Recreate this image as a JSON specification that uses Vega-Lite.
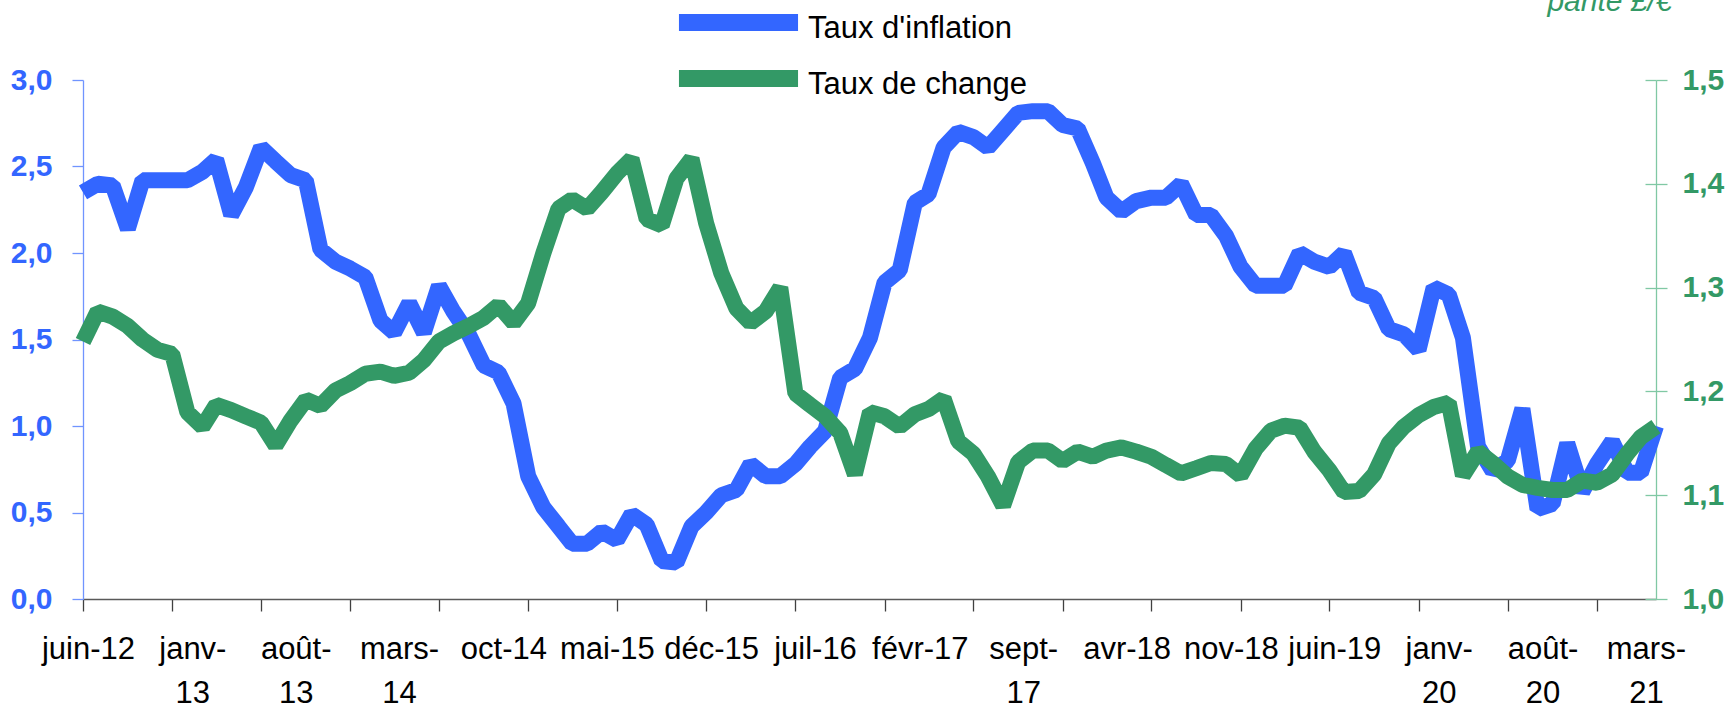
{
  "$schema": "https://vega.github.io/schema/vega-lite/v6.json",
  "width": 1573,
  "height": 519,
  "autosize": {"type": "none"},
  "padding": {"left": 83, "top": 80, "right": 72, "bottom": 114},
  "background": "white",
  "config": {"view": {"stroke": null}, "font": "Liberation Sans"},
  "data": {"values": [
    {"mois": "2012-06-01", "inflation": 2.35, "change": 1.248},
    {"mois": "2012-07-01", "inflation": 2.40, "change": 1.277},
    {"mois": "2012-08-01", "inflation": 2.39, "change": 1.272},
    {"mois": "2012-09-01", "inflation": 2.14, "change": 1.263},
    {"mois": "2012-10-01", "inflation": 2.42, "change": 1.250},
    {"mois": "2012-11-01", "inflation": 2.42, "change": 1.240},
    {"mois": "2012-12-01", "inflation": 2.42, "change": 1.236},
    {"mois": "2013-01-01", "inflation": 2.42, "change": 1.180},
    {"mois": "2013-02-01", "inflation": 2.47, "change": 1.166},
    {"mois": "2013-03-01", "inflation": 2.54, "change": 1.187},
    {"mois": "2013-04-01", "inflation": 2.22, "change": 1.182},
    {"mois": "2013-05-01", "inflation": 2.38, "change": 1.176},
    {"mois": "2013-06-01", "inflation": 2.61, "change": 1.170},
    {"mois": "2013-07-01", "inflation": 2.53, "change": 1.148},
    {"mois": "2013-08-01", "inflation": 2.45, "change": 1.172},
    {"mois": "2013-09-01", "inflation": 2.42, "change": 1.192},
    {"mois": "2013-10-01", "inflation": 2.02, "change": 1.186},
    {"mois": "2013-11-01", "inflation": 1.95, "change": 1.201},
    {"mois": "2013-12-01", "inflation": 1.91, "change": 1.208},
    {"mois": "2014-01-01", "inflation": 1.86, "change": 1.217},
    {"mois": "2014-02-01", "inflation": 1.61, "change": 1.219},
    {"mois": "2014-03-01", "inflation": 1.54, "change": 1.215},
    {"mois": "2014-04-01", "inflation": 1.71, "change": 1.218},
    {"mois": "2014-05-01", "inflation": 1.54, "change": 1.230},
    {"mois": "2014-06-01", "inflation": 1.81, "change": 1.248},
    {"mois": "2014-07-01", "inflation": 1.66, "change": 1.256},
    {"mois": "2014-08-01", "inflation": 1.53, "change": 1.263},
    {"mois": "2014-09-01", "inflation": 1.35, "change": 1.271},
    {"mois": "2014-10-01", "inflation": 1.31, "change": 1.283},
    {"mois": "2014-11-01", "inflation": 1.13, "change": 1.266},
    {"mois": "2014-12-01", "inflation": 0.71, "change": 1.285},
    {"mois": "2015-01-01", "inflation": 0.53, "change": 1.333},
    {"mois": "2015-02-01", "inflation": 0.42, "change": 1.376},
    {"mois": "2015-03-01", "inflation": 0.32, "change": 1.385},
    {"mois": "2015-04-01", "inflation": 0.32, "change": 1.376},
    {"mois": "2015-05-01", "inflation": 0.39, "change": 1.392},
    {"mois": "2015-06-01", "inflation": 0.34, "change": 1.410},
    {"mois": "2015-07-01", "inflation": 0.49, "change": 1.424},
    {"mois": "2015-08-01", "inflation": 0.43, "change": 1.366},
    {"mois": "2015-09-01", "inflation": 0.22, "change": 1.360},
    {"mois": "2015-10-01", "inflation": 0.21, "change": 1.405},
    {"mois": "2015-11-01", "inflation": 0.42, "change": 1.424},
    {"mois": "2015-12-01", "inflation": 0.50, "change": 1.362},
    {"mois": "2016-01-01", "inflation": 0.60, "change": 1.314},
    {"mois": "2016-02-01", "inflation": 0.63, "change": 1.280},
    {"mois": "2016-03-01", "inflation": 0.78, "change": 1.266},
    {"mois": "2016-04-01", "inflation": 0.71, "change": 1.277},
    {"mois": "2016-05-01", "inflation": 0.71, "change": 1.300},
    {"mois": "2016-06-01", "inflation": 0.78, "change": 1.198},
    {"mois": "2016-07-01", "inflation": 0.88, "change": 1.187},
    {"mois": "2016-08-01", "inflation": 0.97, "change": 1.176},
    {"mois": "2016-09-01", "inflation": 1.28, "change": 1.160},
    {"mois": "2016-10-01", "inflation": 1.33, "change": 1.120},
    {"mois": "2016-11-01", "inflation": 1.51, "change": 1.180},
    {"mois": "2016-12-01", "inflation": 1.83, "change": 1.176},
    {"mois": "2017-01-01", "inflation": 1.90, "change": 1.166},
    {"mois": "2017-02-01", "inflation": 2.29, "change": 1.178},
    {"mois": "2017-03-01", "inflation": 2.34, "change": 1.183},
    {"mois": "2017-04-01", "inflation": 2.61, "change": 1.193},
    {"mois": "2017-05-01", "inflation": 2.70, "change": 1.152},
    {"mois": "2017-06-01", "inflation": 2.67, "change": 1.140},
    {"mois": "2017-07-01", "inflation": 2.61, "change": 1.118},
    {"mois": "2017-08-01", "inflation": 2.71, "change": 1.090},
    {"mois": "2017-09-01", "inflation": 2.81, "change": 1.132},
    {"mois": "2017-10-01", "inflation": 2.82, "change": 1.143},
    {"mois": "2017-11-01", "inflation": 2.82, "change": 1.143},
    {"mois": "2017-12-01", "inflation": 2.74, "change": 1.133},
    {"mois": "2018-01-01", "inflation": 2.72, "change": 1.142},
    {"mois": "2018-02-01", "inflation": 2.52, "change": 1.137},
    {"mois": "2018-03-01", "inflation": 2.32, "change": 1.143},
    {"mois": "2018-04-01", "inflation": 2.24, "change": 1.146},
    {"mois": "2018-05-01", "inflation": 2.30, "change": 1.142},
    {"mois": "2018-06-01", "inflation": 2.32, "change": 1.137},
    {"mois": "2018-07-01", "inflation": 2.32, "change": 1.129},
    {"mois": "2018-08-01", "inflation": 2.40, "change": 1.121},
    {"mois": "2018-09-01", "inflation": 2.22, "change": 1.126},
    {"mois": "2018-10-01", "inflation": 2.22, "change": 1.131},
    {"mois": "2018-11-01", "inflation": 2.10, "change": 1.130},
    {"mois": "2018-12-01", "inflation": 1.92, "change": 1.119},
    {"mois": "2019-01-01", "inflation": 1.81, "change": 1.145},
    {"mois": "2019-02-01", "inflation": 1.81, "change": 1.162},
    {"mois": "2019-03-01", "inflation": 1.81, "change": 1.167},
    {"mois": "2019-04-01", "inflation": 2.00, "change": 1.165},
    {"mois": "2019-05-01", "inflation": 1.95, "change": 1.142},
    {"mois": "2019-06-01", "inflation": 1.92, "change": 1.124},
    {"mois": "2019-07-01", "inflation": 2.00, "change": 1.103},
    {"mois": "2019-08-01", "inflation": 1.77, "change": 1.104},
    {"mois": "2019-09-01", "inflation": 1.74, "change": 1.120},
    {"mois": "2019-10-01", "inflation": 1.56, "change": 1.150},
    {"mois": "2019-11-01", "inflation": 1.53, "change": 1.166},
    {"mois": "2019-12-01", "inflation": 1.44, "change": 1.177},
    {"mois": "2020-01-01", "inflation": 1.80, "change": 1.185},
    {"mois": "2020-02-01", "inflation": 1.76, "change": 1.189},
    {"mois": "2020-03-01", "inflation": 1.51, "change": 1.119},
    {"mois": "2020-04-01", "inflation": 0.88, "change": 1.142},
    {"mois": "2020-05-01", "inflation": 0.74, "change": 1.131},
    {"mois": "2020-06-01", "inflation": 0.80, "change": 1.118},
    {"mois": "2020-07-01", "inflation": 1.10, "change": 1.110},
    {"mois": "2020-08-01", "inflation": 0.52, "change": 1.107},
    {"mois": "2020-09-01", "inflation": 0.55, "change": 1.105},
    {"mois": "2020-10-01", "inflation": 0.90, "change": 1.105},
    {"mois": "2020-11-01", "inflation": 0.62, "change": 1.114},
    {"mois": "2020-12-01", "inflation": 0.78, "change": 1.112},
    {"mois": "2021-01-01", "inflation": 0.91, "change": 1.120},
    {"mois": "2021-02-01", "inflation": 0.73, "change": 1.140},
    {"mois": "2021-03-01", "inflation": 0.73, "change": 1.156},
    {"mois": "2021-04-01", "inflation": 1.00, "change": 1.166}
  ]},
  "encoding": {
    "x": {
      "field": "mois",
      "type": "temporal",
      "scale": {"type": "utc", "nice": false},
      "axis": {
        "title": null,
        "grid": false,
        "tickCount": {"interval": "month", "step": 1},
        "domainColor": "#595959",
        "domainWidth": 1.3,
        "tickColor": "#404040",
        "tickWidth": 1.3,
        "tickSize": 12,
        "tickOpacity": {"condition": {"test": "utcmonth(datum.value) % 6 == 5", "value": 1}, "value": 0},
        "labelOverlap": false,
        "labelFlush": false,
        "labelBound": false,
        "labelFont": "Liberation Sans",
        "labelFontSize": 31,
        "labelColor": "black",
        "labelPadding": 23,
        "labelLineHeight": 44,
        "labelOffset": 5,
        "labelBaseline": "top",
        "labelExpr": "((utcyear(datum.value) - 2012) * 12 + utcmonth(datum.value) - 5) % 7 != 0 ? '' : ((((utcyear(datum.value) - 2012) * 12 + utcmonth(datum.value) - 5) == 7 || ((utcyear(datum.value) - 2012) * 12 + utcmonth(datum.value) - 5) == 14 || ((utcyear(datum.value) - 2012) * 12 + utcmonth(datum.value) - 5) == 21 || ((utcyear(datum.value) - 2012) * 12 + utcmonth(datum.value) - 5) == 63 || ((utcyear(datum.value) - 2012) * 12 + utcmonth(datum.value) - 5) >= 91) ? [['janv','févr','mars','avr','mai','juin','juil','août','sept','oct','nov','déc'][utcmonth(datum.value)] + '-', utcFormat(datum.value, '%y')] : ['janv','févr','mars','avr','mai','juin','juil','août','sept','oct','nov','déc'][utcmonth(datum.value)] + '-' + utcFormat(datum.value, '%y'))"
      }
    }
  },
  "layer": [
    {
      "mark": {"type": "line", "strokeWidth": 16, "strokeJoin": "bevel", "strokeCap": "butt"},
      "encoding": {
        "y": {
          "field": "inflation",
          "type": "quantitative",
          "scale": {"domain": [0, 3], "nice": false, "zero": false},
          "axis": {
            "orient": "left",
            "title": null,
            "grid": false,
            "values": [0, 0.5, 1, 1.5, 2, 2.5, 3],
            "labelExpr": "replace(format(datum.value, '.1f'), '.', ',')",
            "labelFont": "Liberation Sans",
            "labelFontSize": 30,
            "labelFontWeight": "bold",
            "labelColor": "#3366FF",
            "labelPadding": 20,
            "domainColor": "#7094FF",
            "domainWidth": 1.3,
            "tickColor": "#7094FF",
            "tickWidth": 1.3,
            "tickSize": 11
          }
        },
        "color": {
          "datum": "Taux d'inflation",
          "type": "nominal",
          "scale": {"domain": ["Taux d'inflation", "Taux de change"], "range": ["#3366FF", "#339966"]},
          "legend": {
            "title": null,
            "orient": "none",
            "legendX": 634,
            "legendY": -79,
            "padding": 0,
            "symbolType": "M-4.58,0H4.58",
            "symbolSize": 676,
            "symbolStrokeWidth": 17,
            "labelFont": "Liberation Sans",
            "labelFontSize": 31,
            "labelColor": "black",
            "labelOffset": 48,
            "rowPadding": -20,
            "labelLimit": 400,
            "encode": {"labels": {"update": {"dy": {"value": 6}}}}
          }
        }
      }
    },
    {
      "layer": [
        {
          "mark": {"type": "line", "strokeWidth": 16, "strokeJoin": "bevel", "strokeCap": "butt"},
          "encoding": {
            "y": {
              "field": "change",
              "type": "quantitative",
              "scale": {"domain": [1.0, 1.5], "nice": false, "zero": false},
              "axis": {
                "orient": "right",
                "title": "parité £/€",
                "titleAngle": 0,
                "titleX": 16,
                "titleY": -70,
                "titleAlign": "right",
                "titleBaseline": "alphabetic",
                "titleFont": "Liberation Sans",
                "titleFontStyle": "italic",
                "titleFontWeight": "normal",
                "titleFontSize": 30,
                "titleColor": "#339966",
                "grid": false,
                "values": [1.0, 1.1, 1.2, 1.3, 1.4, 1.5],
                "labelExpr": "replace(format(datum.value, '.1f'), '.', ',')",
                "labelFont": "Liberation Sans",
                "labelFontSize": 30,
                "labelFontWeight": "bold",
                "labelColor": "#339966",
                "labelPadding": 15,
                "domainColor": "#80C8A4",
                "domainWidth": 1.3,
                "tickColor": "#80C8A4",
                "tickWidth": 1.3,
                "tickSize": 11
              }
            },
            "color": {"datum": "Taux de change", "type": "nominal"}
          }
        },
        {
          "mark": {"type": "line", "strokeOpacity": 0},
          "encoding": {
            "y": {
              "field": "change",
              "type": "quantitative",
              "axis": {
                "orient": "right",
                "title": null,
                "grid": false,
                "labels": false,
                "domain": false,
                "values": [1.0, 1.1, 1.2, 1.3, 1.4, 1.5],
                "tickColor": "#80C8A4",
                "tickWidth": 1.3,
                "tickSize": -11
              }
            }
          }
        }
      ],
      "resolve": {"axis": {"y": "independent"}}
    }
  ],
  "resolve": {"scale": {"y": "independent"}}
}
